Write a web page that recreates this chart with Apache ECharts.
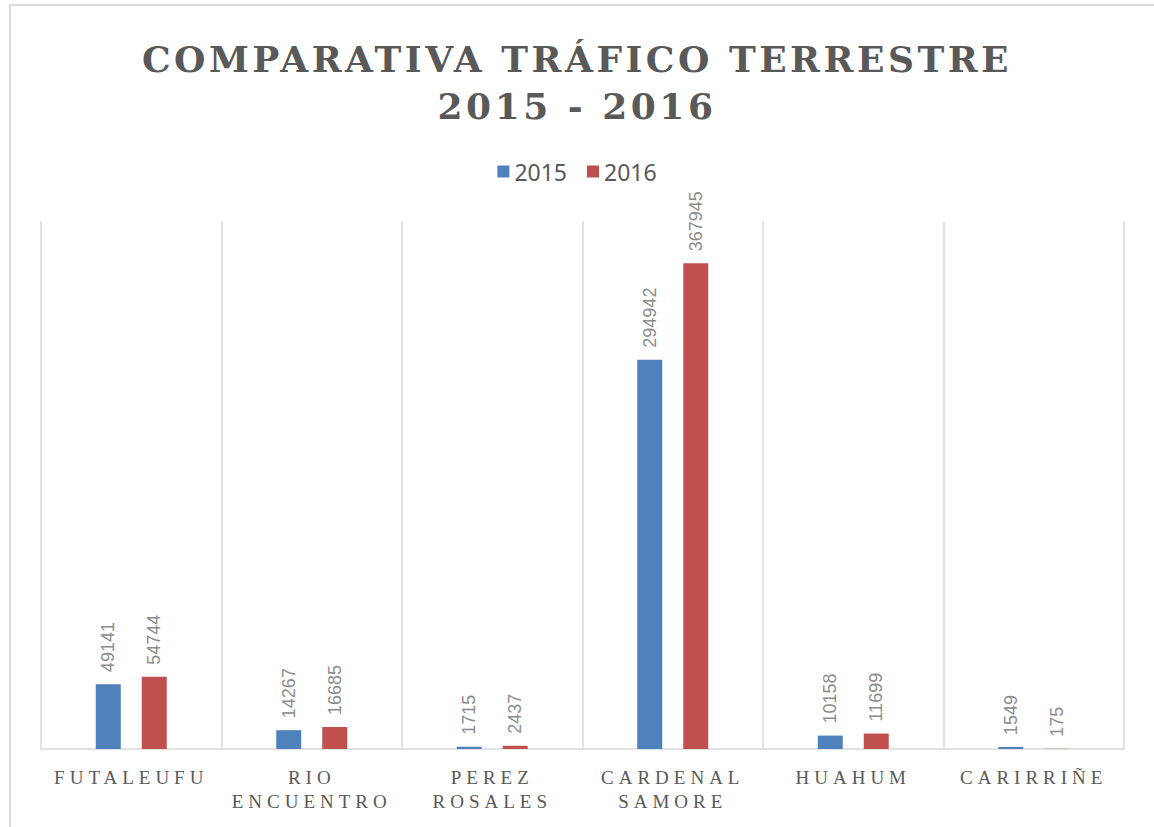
<!DOCTYPE html>
<html>
<head>
<meta charset="utf-8">
<script src="https://cdn.jsdelivr.net/npm/echarts@6/dist/echarts.min.js"></script>
<style>
  html, body { margin: 0; padding: 0; background: #fff; }
  #main { width: 1154px; height: 827px; }
  /* espaciado de letras para titulo y categorias (estilo Excel) */
  #main text[style*="DejaVu Serif"] { letter-spacing: 3.5px; }
  #main text[style*="Liberation Serif"] { letter-spacing: 5px; }
</style>
</head>
<body>
<div id="main"></div>
<script>
// datos del grafico
var categorias = ['FUTALEUFU', 'RIO\nENCUENTRO', 'PEREZ\nROSALES', 'CARDENAL\nSAMORE', 'HUAHUM', 'CARIRRIÑE'];
var datos2015 = [49141, 14267, 1715, 294942, 10158, 1549];
var datos2016 = [54744, 16685, 2437, 367945, 11699, 175];
var series_nombres = ['2015', '2016'];

var myChart = echarts.init(document.getElementById('main'), null, { renderer: 'svg' });

var etiqueta = {
  show: true,
  position: 'top',
  rotate: 90,
  align: 'left',
  verticalAlign: 'middle',
  distance: 12,
  color: '#8c8c8c',
  fontFamily: 'Liberation Sans',
  fontSize: 18
};

var option = {
  backgroundColor: '#fff',
  title: {
    text: 'COMPARATIVA TRÁFICO TERRESTRE\n2015 - 2016',
    left: 'center',
    top: 30,
    textStyle: {
      fontFamily: 'DejaVu Serif',
      fontWeight: 'bold',
      fontSize: 36,
      lineHeight: 47,
      color: '#595959'
    }
  },
  legend: {
    data: series_nombres,
    top: 155,
    left: 'center',
    itemWidth: 12,
    itemHeight: 12,
    itemGap: 20,
    icon: 'rect',
    textStyle: { fontFamily: 'Noto Sans', fontSize: 23, color: '#595959' }
  },
  graphic: [{
    type: 'rect',
    shape: { x: 10, y: 5, width: 1200, height: 900 },
    style: { fill: 'none', stroke: '#d9d9d9', lineWidth: 2 },
    silent: true
  }],
  grid: { left: 41, right: 30, top: 221, bottom: 78 },
  xAxis: {
    type: 'category',
    data: categorias,
    axisTick: { show: false },
    axisLine: { lineStyle: { color: '#d9d9d9', width: 1.5 } },
    splitLine: { show: true, lineStyle: { color: '#d9d9d9', width: 1.5 } },
    axisLabel: {
      margin: 16,
      fontFamily: 'Liberation Serif',
      fontSize: 19,
      lineHeight: 24,
      color: '#595959',
      interval: 0
    }
  },
  yAxis: {
    type: 'value',
    min: 0,
    max: 400000,
    show: false,
    splitLine: { show: false }
  },
  series: [{
    name: series_nombres[0],
    type: 'bar',
    data: datos2015,
    barWidth: 25,
    barGap: '84%',
    itemStyle: { color: '#4f81bd' },
    label: etiqueta
  }, {
    name: series_nombres[1],
    type: 'bar',
    data: datos2016,
    barWidth: 25,
    itemStyle: { color: '#c0504d' },
    label: etiqueta
  }]
};

myChart.setOption(option);
</script>
</body>
</html>
